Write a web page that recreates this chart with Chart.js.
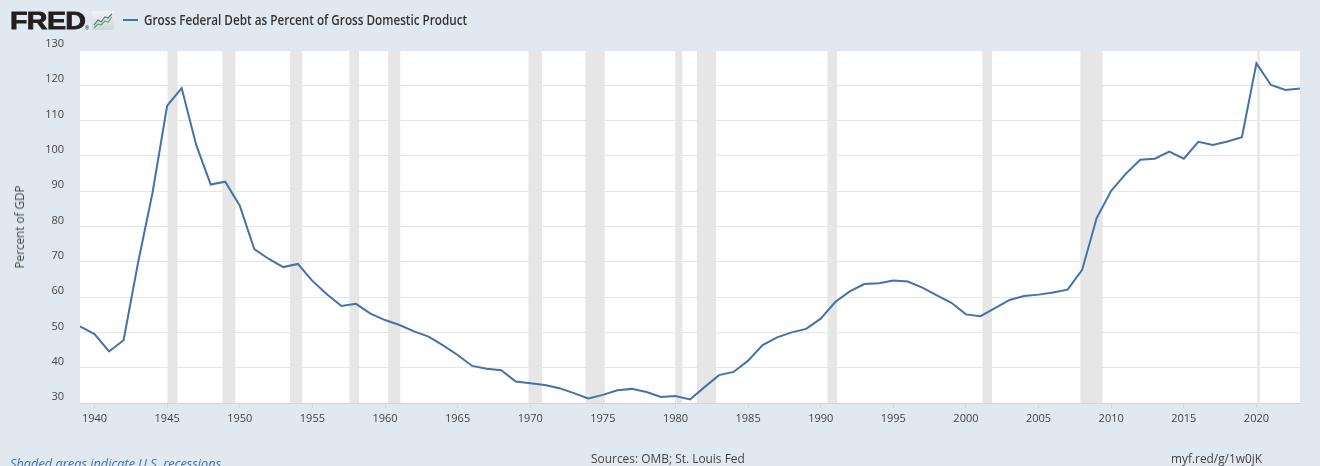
<!DOCTYPE html>
<html><head><meta charset="utf-8">
<script src="https://cdn.jsdelivr.net/npm/chart.js@4.4.0/dist/chart.umd.min.js"></script>
<style>
html,body{margin:0;padding:0;background:#e1e9f0;width:1320px;height:466px;overflow:hidden;}
#wrap{position:relative;width:1320px;height:466px;}
canvas{position:absolute;left:0;top:0;}
.t{position:absolute;white-space:nowrap;transform-origin:0 50%;font-family:"Open Sans",sans-serif;line-height:16px;}
</style></head><body>
<div id="wrap">
<canvas id="c" width="1320" height="466"></canvas>
<div class="t" id="logo" data-w="75" style="left:10px;top:9px;font-family:'Liberation Sans',Arial,sans-serif;font-weight:bold;font-size:24px;line-height:24px;color:#231f20;letter-spacing:-0.5px;-webkit-text-stroke:0.8px #231f20;">FRED</div>
<div class="t" style="left:85px;top:26px;font-size:5px;line-height:5px;color:#231f20;">®</div>
<svg style="position:absolute;left:92px;top:11px;" width="22" height="19" viewBox="0 0 22 19">
  <defs><linearGradient id="g" x1="0" y1="0" x2="0" y2="1"><stop offset="0" stop-color="#f2f4f5"/><stop offset="1" stop-color="#cfd6db"/></linearGradient></defs>
  <rect x="0" y="0" width="22" height="19" rx="2" fill="url(#g)"/>
  <polyline points="2,14 6,9 9,11 13,6 16,7 20,3" fill="none" stroke="#4572a7" stroke-width="1.2"/>
  <polyline points="2,17 6,13 9,14 13,10 16,11 20,6" fill="none" stroke="#6aa84f" stroke-width="1.2"/>
</svg>
<div style="position:absolute;left:123px;top:19px;width:15px;height:2px;background:#4572a7;"></div>
<div class="t" id="title" data-w="323" style="left:144px;top:12px;font-size:14px;color:#333;font-weight:600;">Gross Federal Debt as Percent of Gross Domestic Product</div>
<div id="ytitle" style="position:absolute;left:20px;top:227px;width:0;height:0;">
  <div class="t" data-w="83" style="left:0;top:0;font-size:12px;color:#444;transform-origin:0 0;" id="ytt">Percent of GDP</div>
</div>
<div class="t" data-w="154" style="left:591px;top:451px;font-size:12px;color:#444;">Sources: OMB; St. Louis Fed</div>
<div class="t" data-w="91" style="left:1171px;top:451px;font-size:12px;color:#444;">myf.red/g/1w0jK</div>
<div class="t" data-w="211" style="left:10px;top:456px;font-size:12px;color:#4572a7;font-style:italic;">Shaded areas indicate U.S. recessions</div>
</div>
<script>
const years = [1939,1940,1941,1942,1943,1944,1945,1946,1947,1948,1949,1950,1951,1952,1953,1954,1955,1956,1957,1958,1959,1960,1961,1962,1963,1964,1965,1966,1967,1968,1969,1970,1971,1972,1973,1974,1975,1976,1977,1978,1979,1980,1981,1982,1983,1984,1985,1986,1987,1988,1989,1990,1991,1992,1993,1994,1995,1996,1997,1998,1999,2000,2001,2002,2003,2004,2005,2006,2007,2008,2009,2010,2011,2012,2013,2014,2015,2016,2017,2018,2019,2020,2021,2022,2023];
const debtPct = [51.7,49.5,44.6,47.8,69.8,89.7,114.2,119.2,103.1,91.9,92.7,85.9,73.6,70.8,68.5,69.4,64.6,60.8,57.5,58.1,55.3,53.5,52.1,50.3,48.8,46.3,43.6,40.5,39.7,39.3,36.1,35.6,35.1,34.2,32.8,31.3,32.3,33.6,34.0,33.1,31.7,32.0,31.0,34.5,37.9,38.8,42.0,46.4,48.6,50.0,51.0,53.9,58.6,61.6,63.7,63.9,64.7,64.4,62.7,60.5,58.4,55.1,54.6,56.9,59.2,60.3,60.7,61.3,62.1,67.7,82.4,90.1,94.9,98.9,99.2,101.2,99.2,104.0,103.1,104.1,105.3,126.2,120.1,118.7,119.1];
const xTicks = [1940,1945,1950,1955,1960,1965,1970,1975,1980,1985,1990,1995,2000,2005,2010,2015,2020];
const yTicks = [30,40,50,60,70,80,90,100,110,120,130];
const recessionStart = [1945.03,1948.8,1953.47,1957.55,1960.22,1969.88,1973.8,1979.98,1981.47,1990.47,2001.13,2007.88,2020.06];
const recessionEnd   = [1945.72,1949.7,1954.3,1958.22,1961.05,1970.8,1975.13,1980.47,1982.8,1991.13,2001.8,2009.4,2020.23];

const points = years.map((y,i)=>({x:y,y:debtPct[i]}));

const bgPlugin = {
  id:'bg',
  beforeDraw(chart){
    const {ctx, chartArea:a} = chart;
    ctx.save();
    ctx.fillStyle='#e1e9f0';
    ctx.fillRect(0,0,chart.width,chart.height);
    ctx.fillStyle='#ffffff';
    ctx.fillRect(a.left,a.top,a.right-a.left,a.bottom-a.top);
    ctx.restore();
  },
  beforeDatasetsDraw(chart){
    const {ctx, chartArea:a, scales:{x}} = chart;
    ctx.save();
    ctx.fillStyle='#e6e6e6';
    recessionStart.forEach((s,i)=>{
      const x0 = x.getPixelForValue(s), x1 = x.getPixelForValue(recessionEnd[i]);
      ctx.fillRect(x0,a.top,Math.max(1,x1-x0),a.bottom-a.top);
    });
    ctx.restore();
  }
};

new Chart(document.getElementById('c'),{
  type:'line',
  data:{datasets:[{data:points,borderColor:'#4572a7',borderWidth:2,pointRadius:0,tension:0,fill:false}]},
  options:{
    responsive:false,animation:false,devicePixelRatio:1,
    layout:{padding:{top:50,right:20,bottom:33,left:0}},
    plugins:{legend:{display:false},tooltip:{enabled:false}},
    scales:{
      x:{type:'linear',min:1939,max:2023,
        afterFit(s){s.height=30;},
        afterBuildTicks(s){s.ticks=xTicks.map(v=>({value:v}));},
        grid:{display:true,drawOnChartArea:false,drawTicks:true,tickLength:5,color:'#ccd6eb'},
        border:{display:true,color:'#ccd6eb',width:1},
        ticks:{padding:4,maxRotation:0,autoSkip:false,color:'#444',font:{family:'Open Sans',size:11},callback:v=>String(v)}
      },
      y:{min:30,max:130,
        afterFit(s){s.width=80;},
        afterBuildTicks(s){s.ticks=yTicks.map(v=>({value:v}));},
        grid:{color:'#e6e6e6',drawTicks:false,lineWidth:1},
        border:{display:false},
        ticks:{padding:16,labelOffset:-6,color:'#444',font:{family:'Open Sans',size:11},callback:v=>String(v)}
      }
    }
  },
  plugins:[bgPlugin]
});

function fit(){
  document.querySelectorAll('[data-w]').forEach(el=>{
    el.style.transform='';
    const w = el.offsetWidth;
    const t = parseFloat(el.dataset.w);
    const sx = t/w;
    if(el.id==='ytt'){
      const h = el.offsetHeight;
      el.style.transform = 'rotate(-90deg) translate(' + (-t/2) + 'px,' + (-h/2) + 'px) scaleX(' + sx + ')';
    } else {
      el.style.transform = 'scaleX(' + sx + ')';
    }
  });
}
fit();
if(document.fonts && document.fonts.ready){document.fonts.ready.then(fit);}
</script>
</body></html>
